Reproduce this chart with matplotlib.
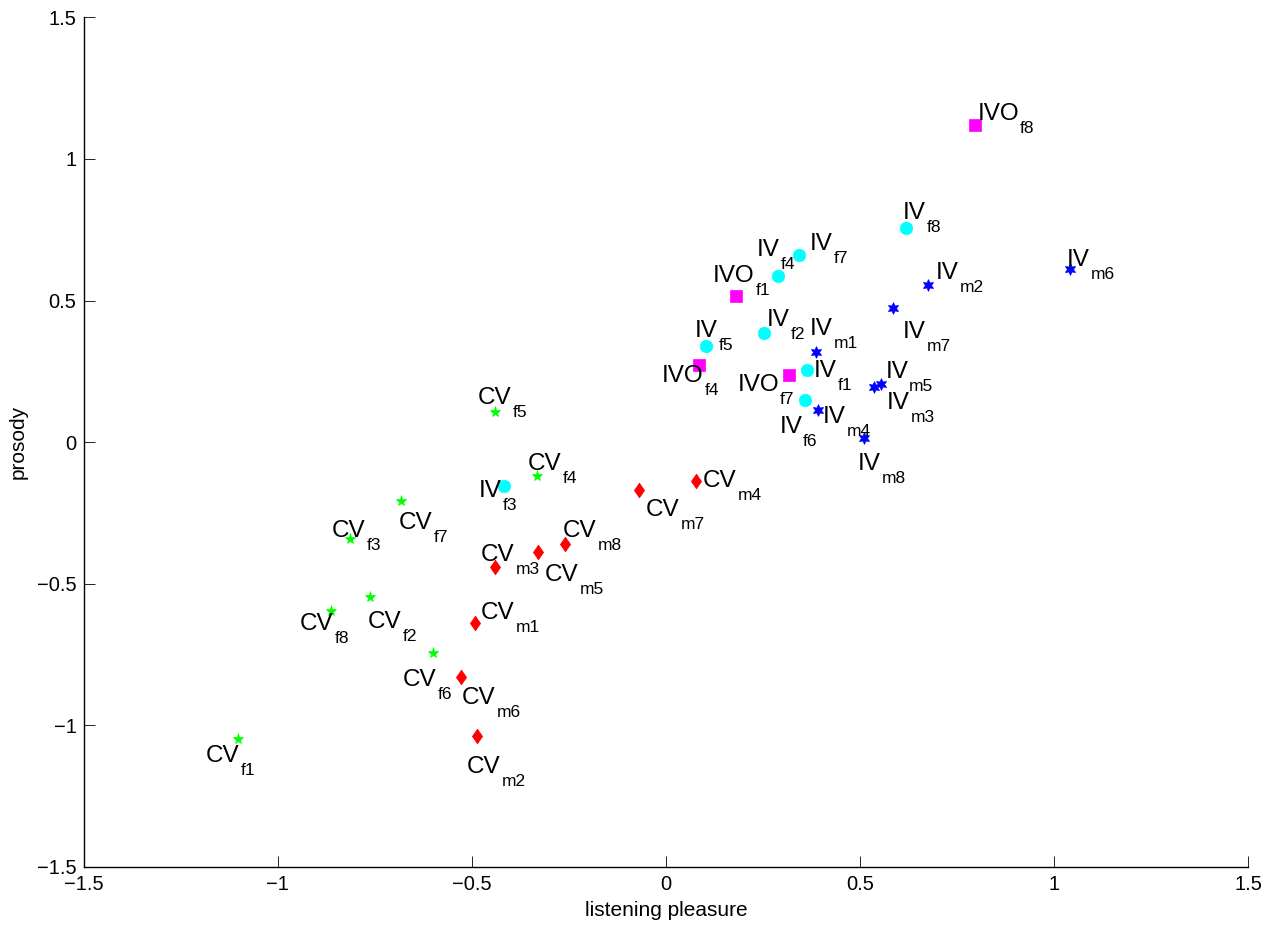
import matplotlib.pyplot as plt

plt.rcParams['font.family'] = ['Liberation Sans', 'DejaVu Sans']

# IV, female speakers (cyan circles)
ivf_sub = ['f1', 'f2', 'f3', 'f4', 'f5', 'f6', 'f7', 'f8']
ivf_x = [0.363, 0.252, -0.416, 0.289, 0.103, 0.358, 0.343, 0.618]
ivf_y = [0.254, 0.384, -0.154, 0.588, 0.341, 0.148, 0.661, 0.757]
ivf_lx = [0.380, 0.261, -0.481, 0.235, 0.075, 0.292, 0.371, 0.610]
ivf_ly = [0.229, 0.410, -0.193, 0.657, 0.372, 0.031, 0.679, 0.787]

# IV, male speakers (blue hexagrams)
ivm_sub = ['m1', 'm2', 'm3', 'm4', 'm5', 'm6', 'm7', 'm8']
ivm_x = [0.387, 0.674, 0.536, 0.392, 0.553, 1.042, 0.586, 0.511]
ivm_y = [0.317, 0.554, 0.194, 0.114, 0.204, 0.611, 0.475, 0.013]
ivm_lx = [0.371, 0.696, 0.569, 0.405, 0.565, 1.032, 0.609, 0.495]
ivm_ly = [0.378, 0.575, 0.116, 0.069, 0.225, 0.623, 0.367, -0.099]

# CV, female speakers (green pentagrams)
cvf_sub = ['f1', 'f2', 'f3', 'f4', 'f5', 'f6', 'f7', 'f8']
cvf_x = [-1.102, -0.761, -0.813, -0.332, -0.439, -0.599, -0.682, -0.863]
cvf_y = [-1.050, -0.547, -0.343, -0.119, 0.107, -0.745, -0.208, -0.597]
cvf_lx = [-1.184, -0.768, -0.861, -0.356, -0.485, -0.678, -0.687, -0.942]
cvf_ly = [-1.129, -0.658, -0.334, -0.099, 0.135, -0.862, -0.308, -0.664]

# CV, male speakers (red diamonds)
cvm_sub = ['m1', 'm2', 'm3', 'm4', 'm5', 'm6', 'm7', 'm8']
cvm_x = [-0.491, -0.486, -0.441, 0.078, -0.330, -0.528, -0.070, -0.260]
cvm_y = [-0.639, -1.039, -0.442, -0.136, -0.389, -0.829, -0.169, -0.361]
cvm_lx = [-0.476, -0.513, -0.476, 0.096, -0.311, -0.526, -0.051, -0.266]
cvm_ly = [-0.625, -1.170, -0.420, -0.158, -0.491, -0.926, -0.261, -0.336]

# IVO, female speakers (magenta squares)
ivo_sub = ['f1', 'f4', 'f7', 'f8']
ivo_x = [0.181, 0.085, 0.318, 0.797]
ivo_y = [0.516, 0.271, 0.237, 1.119]
ivo_lx = [0.121, -0.011, 0.184, 0.802]
ivo_ly = [0.567, 0.213, 0.182, 1.138]

ticks = [-1.5, -1, -0.5, 0, 0.5, 1, 1.5]
tick_labels = ['\u22121.5', '\u22121', '\u22120.5', '0', '0.5', '1', '1.5']

# narrow diamond like matlab 'd'
diamond = [(0, 1), (0.7, 0), (0, -1), (-0.7, 0), (0, 1)]


def label(ax, x, y, main, sub):
    t = ax.text(x, y, main, ha='left', va='baseline', fontsize=17.5)
    ax.annotate(sub, xy=(1, 0), xycoords=t, xytext=(0.8, -5.8),
                textcoords='offset points', ha='left', va='baseline',
                fontsize=12.5)


fig = plt.figure(figsize=(12.77, 9.34), dpi=100)
ax = fig.add_axes([0.0654, 0.0721, 0.9121, 0.9092])

groups = [
    ('IV', ivf_sub, ivf_x, ivf_y, ivf_lx, ivf_ly, 'o', '#00ffff', 9),
    ('IV', ivm_sub, ivm_x, ivm_y, ivm_lx, ivm_ly, (6, 1, 0), '#0000ff', 8.5),
    ('CV', cvf_sub, cvf_x, cvf_y, cvf_lx, cvf_ly, '*', '#00ff00', 8),
    ('CV', cvm_sub, cvm_x, cvm_y, cvm_lx, cvm_ly, diamond, '#ff0000', 10.5),
    ('IVO', ivo_sub, ivo_x, ivo_y, ivo_lx, ivo_ly, 's', '#ff00ff', 9),
]

for main, subs, xs, ys, lxs, lys, mk, col, ms in groups:
    ax.plot(xs, ys, linestyle='none', marker=mk, color=col,
            markerfacecolor=col, markeredgecolor=col, markersize=ms,
            markeredgewidth=0.5)
    for s, lx, ly in zip(subs, lxs, lys):
        label(ax, lx, ly, main, s)

ax.set_xlim(-1.5, 1.5)
ax.set_ylim(-1.5, 1.5)
ax.set_xticks(ticks)
ax.set_xticklabels(tick_labels)
ax.set_yticks(ticks)
ax.set_yticklabels(tick_labels)
ax.spines['top'].set_visible(False)
ax.spines['right'].set_visible(False)
for sp in ['left', 'bottom']:
    ax.spines[sp].set_linewidth(1.0)
ax.tick_params(direction='in', length=8, width=0.6, labelsize=14.5)
ax.tick_params(axis='x', pad=6)
ax.tick_params(axis='y', pad=5)

ax.set_xlabel('listening pleasure', fontsize=15, labelpad=5)
ax.set_ylabel('prosody', fontsize=15, labelpad=7)

fig.savefig('out.png', dpi=100)
